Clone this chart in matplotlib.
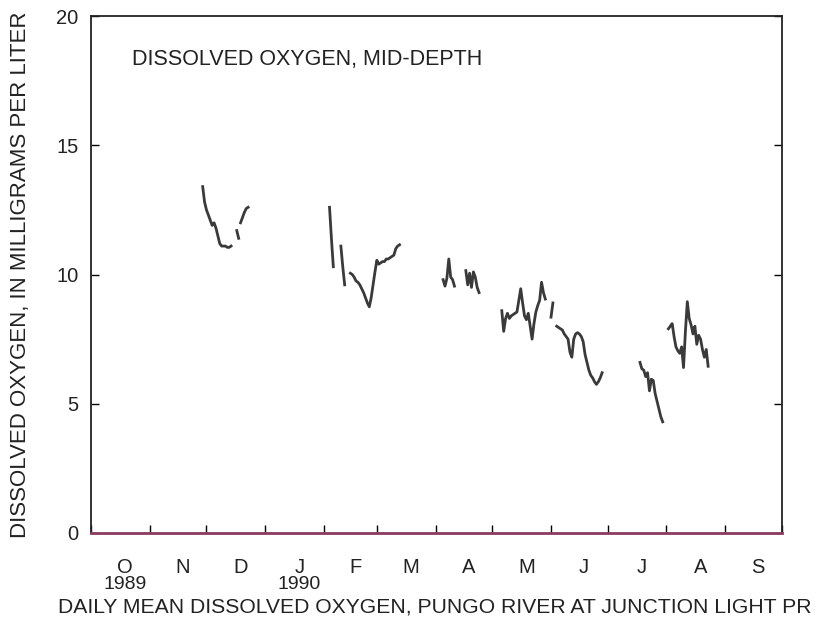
import numpy as np
import matplotlib
matplotlib.use('Agg')
import matplotlib.pyplot as plt

plt.rcParams['font.family'] = ['Liberation Sans', 'DejaVu Sans']

# water year Oct 1989 - Sep 1990, x = day number from Oct 1 1989
months = ['O', 'N', 'D', 'J', 'F', 'M', 'A', 'M', 'J', 'J', 'A', 'S']
month_days = [31, 30, 31, 31, 28, 31, 30, 31, 30, 31, 31, 30]

# daily mean dissolved oxygen, mg/L (pieces between gaps in record)
nov_start = 59
nov_do = [13.4, 12.8, 12.5, 12.3, 12.1, 11.9, 12.0, 11.8, 11.5, 11.2, 11.1, 11.1, 11.1, 11.05, 11.05, 11.1]
dec1_start = 77
dec1_do = [11.7, 11.4]
dec2_start = 79
dec2_do = [12.0, 12.2, 12.4, 12.55, 12.6]
feb1_start = 126
feb1_do = [12.6, 11.4, 10.3]
feb2_start = 132
feb2_do = [11.1, 10.3, 9.6]
feb3_start = 137
feb3_do = [10.05, 10.0, 9.9, 9.75, 9.7, 9.6, 9.45, 9.3, 9.1, 8.9, 8.75, 9.1, 9.6, 10.1,
           10.55, 10.4, 10.45, 10.5, 10.5, 10.6, 10.6, 10.65, 10.7, 10.75, 11.0, 11.1, 11.15]
apr1_start = 186
apr1_do = [9.8, 9.55, 9.85, 10.6, 9.9, 9.8, 9.55]
apr2_start = 198
apr2_do = [10.15, 9.6, 10.05, 9.5, 10.1, 9.9, 9.5, 9.3]
may_start = 217
may_do = [8.6, 7.8, 8.3, 8.5, 8.3, 8.4, 8.45, 8.5, 8.55, 9.0, 9.45, 8.9, 8.4, 8.25, 8.5,
          8.0, 7.5, 8.1, 8.55, 8.8, 9.0, 9.7, 9.3, 9.05]
jun1_start = 243
jun1_do = [8.35, 8.9]
jun2_start = 246
jun2_do = [8.0, 7.95, 7.9, 7.85, 7.7, 7.6, 7.5, 7.0, 6.8, 7.5, 7.7, 7.75, 7.7, 7.6, 7.4,
           6.9, 6.6, 6.3, 6.1, 6.0, 5.85, 5.75, 5.85, 6.0, 6.2]
jul_start = 290
jul_do = [6.6, 6.35, 6.3, 6.05, 6.2, 5.5, 5.95, 5.9, 5.4, 5.1, 4.8, 4.5, 4.3]
aug_start = 305
aug_do = [7.9, 8.0, 8.1, 7.6, 7.2, 7.05, 6.95, 7.2, 6.4, 7.8, 8.95, 8.3, 8.05, 7.7, 8.0,
          7.3, 7.65, 7.5, 7.1, 6.8, 7.1, 6.45]

pieces = [(nov_start, nov_do), (dec1_start, dec1_do), (dec2_start, dec2_do),
          (feb1_start, feb1_do), (feb2_start, feb2_do), (feb3_start, feb3_do),
          (apr1_start, apr1_do), (apr2_start, apr2_do), (may_start, may_do),
          (jun1_start, jun1_do), (jun2_start, jun2_do), (jul_start, jul_do),
          (aug_start, aug_do)]

fig = plt.figure(figsize=(8.28, 6.25), dpi=100)
ax = fig.add_axes([0.1099, 0.1472, 0.8345, 0.8272])

for start, vals in pieces:
    days = start + np.arange(len(vals))
    ax.plot(days, vals, color='#3a3a3a', lw=2)

bounds = np.concatenate([[0], np.cumsum(month_days)])
mids = (bounds[:-1] + bounds[1:]) / 2 + 2.5   # labels sit a bit right of mid-month

ax.set_xlim(0, 365)
ax.set_ylim(0, 20)
ax.set_xticks(bounds)
ax.set_xticklabels([])
ax.set_xticks(mids, minor=True)
ax.set_xticklabels(months, minor=True)
ax.tick_params(axis='x', which='major', direction='in', length=6, width=1, top=False)
ax.tick_params(axis='x', which='minor', length=0, pad=18, labelsize=14.5, labelcolor='#222222')
ax.set_yticks([0, 5, 10, 15, 20])
ax.tick_params(axis='y', direction='in', length=6, width=1, right=True, labelsize=14.5,
               pad=9, labelcolor='#222222')

for s in ax.spines.values():
    s.set_linewidth(1.3)
    s.set_color('#222222')
ax.spines['bottom'].set_color('#8b3a62')
ax.spines['bottom'].set_linewidth(2)

# year labels under October and January
ax.text(mids[0], -0.1, '1989', transform=ax.get_xaxis_transform(),
        ha='center', va='center', fontsize=14, color='#222222')
ax.text(mids[3], -0.1, '1990', transform=ax.get_xaxis_transform(),
        ha='center', va='center', fontsize=14, color='#222222')

ax.text(0.06, 0.915, 'DISSOLVED OXYGEN, MID-DEPTH', transform=ax.transAxes,
        fontsize=15.5, color='#222222', va='center')
ax.set_ylabel('DISSOLVED OXYGEN, IN MILLIGRAMS PER LITER', fontsize=16, color='#222222', labelpad=18)
fig.text(0.525, 0.029, 'DAILY MEAN DISSOLVED OXYGEN, PUNGO RIVER AT JUNCTION LIGHT PR',
         ha='center', va='center', fontsize=15.2, color='#222222')

fig.savefig('out.png', dpi=100)
